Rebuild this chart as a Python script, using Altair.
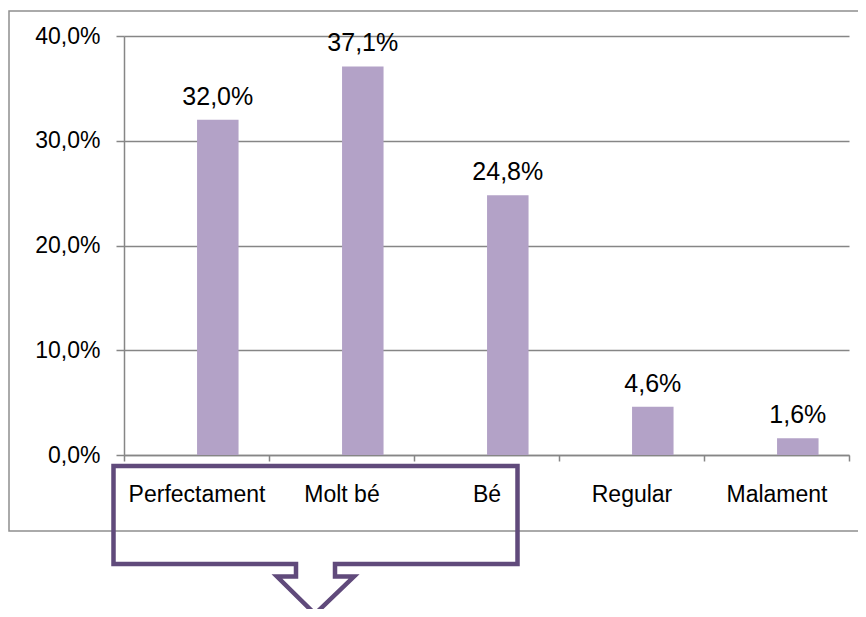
import altair as alt
import pandas as pd

# ---- data ----
categories = ["Perfectament", "Molt bé", "Bé", "Regular", "Malament"]
values = [0.320, 0.371, 0.248, 0.046, 0.016]
y_ticks = [0.0, 0.1, 0.2, 0.3, 0.4]

# ---- callout outline annotation (plot-pixel coordinates) ----
callout_x = [191, 393.5, 393.5, 211, 211, 230, 191, 153, 172, 172, -10.5, -10.5, 191]
callout_y = [430, 430, 528, 528, 540.5, 540.5, 578, 540.5, 540.5, 528, 528, 430, 430]

FONT = "Liberation Sans"
GRID = "#868686"
BAR = "#B3A2C7"
CALLOUT = "#604A7B"

df = pd.DataFrame({"cat": categories, "val": values})
callout_df = pd.DataFrame({"px": callout_x, "py": callout_y, "i": list(range(len(callout_x)))})

x_enc = alt.X(
    "cat:N",
    sort=categories,
    scale=alt.Scale(paddingInner=0, paddingOuter=0),
    axis=alt.Axis(
        title=None, labelAngle=0, tickBand="extent", tickSize=6, tickWidth=1.5,
        tickColor=GRID, domainColor=GRID, domainWidth=1.5, labelPadding=22,
        labelFontSize=23, labelFont=FONT, labelColor="black", labelBaseline="top",
        grid=False,
    ),
)
y_enc = alt.Y(
    "val:Q",
    scale=alt.Scale(domain=[0, 0.4], nice=False),
    axis=alt.Axis(
        title=None, values=y_ticks,
        labelExpr="replace(format(datum.value, '.1%'), '.', ',')",
        tickSize=8, tickWidth=1.5, tickColor=GRID, domainColor=GRID, domainWidth=1.5,
        labelPadding=16, labelFontSize=23, labelFont=FONT, labelColor="black",
        grid=True, gridColor=GRID, gridWidth=1.5,
    ),
)

frame = alt.Chart(pd.DataFrame({"a": [0]})).mark_rect(
    fill=None, stroke="#8f8f8f", strokeWidth=1.5
).encode(
    x=alt.value(-115), x2=alt.value(760), y=alt.value(-25), y2=alt.value(495)
)

bars = alt.Chart(df).mark_bar(width=41.5, xOffset=21.3, color=BAR).encode(x=x_enc, y=y_enc)

labels = alt.Chart(df).transform_calculate(
    label="replace(format(datum.val, '.1%'), '.', ',')"
).mark_text(
    baseline="alphabetic", dy=-15, dx=21.3, fontSize=25, font=FONT, color="black"
).encode(
    x=alt.X("cat:N", sort=categories), y=alt.Y("val:Q"), text="label:N"
)

callout = alt.Chart(callout_df).mark_line(
    color=CALLOUT, strokeWidth=4.5, strokeJoin="miter", strokeCap="square"
).encode(
    x=alt.X("px:Q", scale=None, axis=None),
    y=alt.Y("py:Q", scale=None, axis=None),
    order=alt.Order("i:Q"),
)

chart = alt.layer(frame, bars, labels, callout).properties(
    width=725,
    height=419,
    padding={"left": 116, "top": 28, "right": 9, "bottom": 154},
    autosize=alt.AutoSizeParams(type="none"),
).configure_view(stroke=None)

chart.save("out.html", embed_options={"renderer": "svg", "actions": False})
